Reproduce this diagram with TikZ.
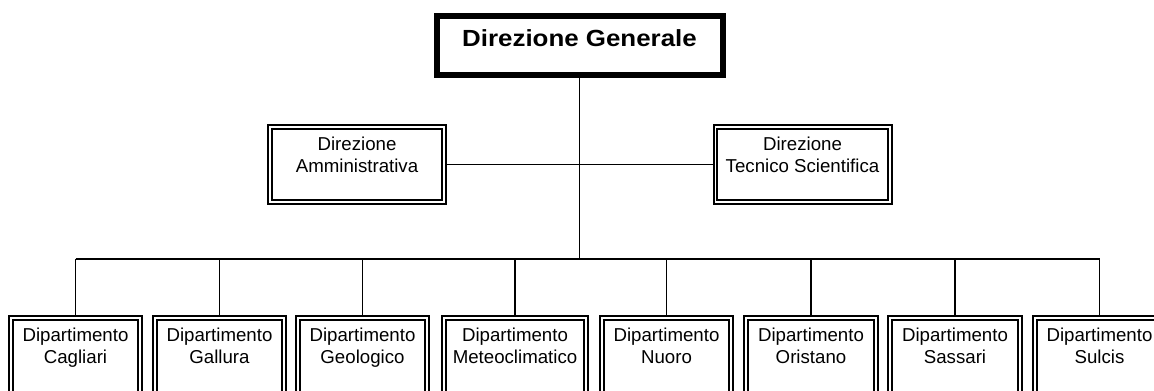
\documentclass[tikz,border=0pt]{standalone}
\usepackage{fontspec}
\setmainfont{Liberation Sans}
\newfontfamily\titlefont[FakeStretch=1.11]{Liberation Sans}
\newcommand{\pad}{\rule[-14.7pt]{0pt}{0pt}}

\begin{document}
\begin{tikzpicture}[x=0.75pt, y=-0.75pt,
    gen/.style={draw, line width=4.5pt, outer sep=2.25pt, inner sep=0pt,
        minimum width=214.5pt, minimum height=44.3pt,
        font=\titlefont\fontsize{17.5}{21}\selectfont\bfseries,
        text height=12.5pt, text depth=10.7pt},
    box/.style={draw, double, line width=1.5pt, double distance=1.3pt,
        outer sep=2.15pt, inner sep=0pt, align=center,
        font=\fontsize{14}{16.5}\selectfont},
    dir/.style={box, minimum width=130.7pt, minimum height=56.5pt},
    dept/.style={box, minimum width=97pt, minimum height=57.2pt}]
    \useasboundingbox (0,0) rectangle (1154,390);

    % Draw the head office
    \node[gen] (gen) at (579.5,45.5) {Direzione Generale};

    % Draw the two directions
    \node[dir] (adm) at (357,164.5) {Direzione\\Amministrativa\pad};
    \node[dir] (tec) at (802.5,164.5) {Direzione\\Tecnico Scientifica\pad};

    % Draw the departments
    \node[dept] (cag) at (75.5,356) {Dipartimento\\Cagliari\pad};
    \node[dept] (gal) at (219.5,356) {Dipartimento\\Gallura\pad};
    \node[dept] (geo) at (362.5,356) {Dipartimento\\Geologico\pad};
    \node[dept, minimum width=106.7pt] (met) at (515,356) {Dipartimento\\Meteoclimatico\pad};
    \node[dept] (nuo) at (666.5,356) {Dipartimento\\Nuoro\pad};
    \node[dept] (ori) at (811,356) {Dipartimento\\Oristano\pad};
    \node[dept] (sas) at (955,356) {Dipartimento\\Sassari\pad};
    \node[dept] (sul) at (1099.5,356) {Dipartimento\\Sulcis\pad};

    % Draw the connectors
    \coordinate (bus) at (579.5,259);
    \draw[line width=1.2pt] (gen) -- (bus);
    \draw[line width=1.2pt] (adm) -- (tec);
    \draw[line width=1.2pt] (cag |- bus) -- (sul |- bus);
    \draw[line width=1.2pt] (cag) -- (cag |- bus);
    \draw[line width=1.2pt] (gal) -- (gal |- bus);
    \draw[line width=1.2pt] (geo) -- (geo |- bus);
    \draw[line width=1.2pt] (met) -- (met |- bus);
    \draw[line width=1.2pt] (nuo) -- (nuo |- bus);
    \draw[line width=1.2pt] (ori) -- (ori |- bus);
    \draw[line width=1.2pt] (sas) -- (sas |- bus);
    \draw[line width=1.2pt] (sul) -- (sul |- bus);
\end{tikzpicture}
\end{document}
